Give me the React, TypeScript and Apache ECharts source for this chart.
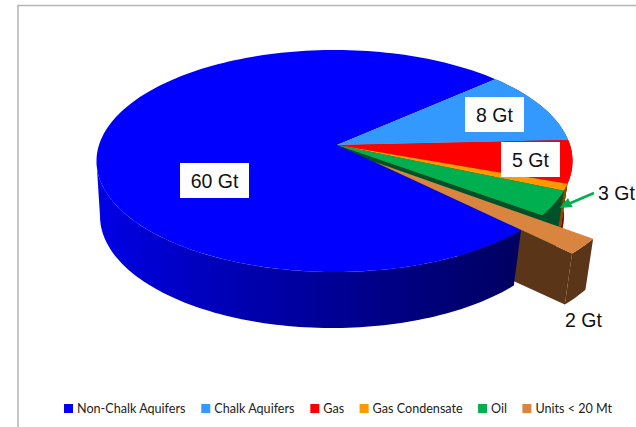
import React, { useEffect, useRef } from "react";
import * as echarts from "echarts";

const categories = ["Non-Chalk Aquifers", "Chalk Aquifers", "Gas", "Gas Condensate", "Oil", "Units < 20 Mt"];
const values = [60, 8, 5, 0.8, 3, 2];
const topColors = ["#0000ff", "#3399ff", "#ff0000", "#ff9900", "#00b050", "#d9843f"];
const sideColors = ["#000080", "#1a4d80", "#800000", "#805000", "#00502a", "#5a3518"];
const labelTexts = ["60 Gt", "8 Gt", "5 Gt", "3 Gt", "2 Gt"];

const START = 47.5;
const apex = [337, 145];
const topE = { cx: 334.5, cy: 161, rx: 238, ry: 111 };
const botE = { cx: 332, cy: 216, rx: 232, ry: 112 };
const apexBot = [335, 200];
const explodeTop = [51, 23.5];
const explodeBot = [51, 19];
const explodeApex = [38, 17];
const total = values.reduce((a, b) => a + b, 0);

const pt = (e: any, deg: number, off = [0, 0]) => {
  const r = (deg * Math.PI) / 180;
  return [e.cx + e.rx * Math.cos(r) + off[0], e.cy - e.ry * Math.sin(r) + off[1]];
};
const arc = (e: any, a: number, b: number, off = [0, 0]) => {
  const n = Math.max(2, Math.ceil(Math.abs(b - a) / 1.5));
  const out: number[][] = [];
  for (let i = 0; i <= n; i++) out.push(pt(e, a + ((b - a) * i) / n, off));
  return out;
};

const angles = (idx: number) => {
  let a = START;
  const res: number[][] = [];
  for (let i = 1; i < values.length; i++) {
    const s = (values[i] / total) * 360;
    res[i] = [a, a - s];
    a -= s;
  }
  res[0] = [a, a - (values[0] / total) * 360];
  return res[idx];
};

const poly = (points: number[][], fill: any, z2: number) => ({
  type: "polygon",
  z2,
  shape: { points },
  style: { fill, stroke: null },
});

const makeRender = (idx: number) => () => {
  const [a, b] = angles(idx);
  const isExploded = idx === values.length - 1;
  const oT = isExploded ? explodeTop : [0, 0];
  const oB = isExploded ? explodeBot : [0, 0];
  const oA = isExploded ? explodeApex : [0, 0];
  const children: any[] = [];
  const zSide = isExploded ? 20 : idx === 0 ? 30 : 10 + idx;
  const zTop = isExploded ? 50 : 40;
  const A = [apex[0] + oA[0], apex[1] + oA[1]];
  const AB = [apexBot[0] + oA[0], apexBot[1] + oA[1]];
  if (idx !== 0) {
    children.push(poly([A, pt(topE, b, oT), pt(botE, b, oB), AB], sideColors[idx], zSide));
  }
  if (idx === 0) {
    const sideFill = new echarts.graphic.LinearGradient(0, 0, 1, 0, [
      { offset: 0, color: "#0000e6" },
      { offset: 0.4, color: "#0000a8" },
      { offset: 1, color: "#000060" },
    ]);
    const topRim = arc(topE, 180, a + 360);
    const botRim = arc(botE, 180, a + 360);
    children.push(poly([...topRim, ...botRim.reverse()], sideFill, zSide));
  } else {
    const topRim = arc(topE, a, b, oT);
    const botRim = arc(botE, a, b, oB);
    children.push(poly([...topRim, ...botRim.reverse()], sideColors[idx], zSide));
  }
  children.push(poly([A, ...arc(topE, a, b, oT)], topColors[idx], zTop));
  return { type: "group", children };
};

export default function App() {
  const ref = useRef<HTMLDivElement>(null);
  useEffect(() => {
    const chart = echarts.init(ref.current!, null, { renderer: "svg" });
    const font = { fontFamily: "'Liberation Sans', Arial, sans-serif", fontSize: 19.5, fill: "#111" };
    const boxed = (text: string, x: number, y: number, w: number, h: number) => [
      { type: "rect", z: 20, shape: { x, y, width: w, height: h }, style: { fill: "#fff" } },
      {
        type: "text",
        z: 21,
        x: x + w / 2,
        y: y + h / 2,
        style: { ...font, text, align: "center", verticalAlign: "middle" },
      },
    ];
    chart.setOption({
      animation: false,
      color: topColors,
      legend: {
        data: categories,
        left: 59,
        top: 397,
        icon: "rect",
        itemWidth: 9,
        itemHeight: 9,
        itemGap: 15.4,
        selectedMode: false,
        textStyle: { fontFamily: "Lato, 'Open Sans', sans-serif", fontSize: 12.6, color: "#222", padding: [0, 0, 0, -1] },
      },
      series: categories.map((name, i) => ({
        type: "custom",
        name,
        coordinateSystem: "none",
        silent: true,
        clip: false,
        itemStyle: { color: topColors[i] },
        data: [[values[i]]],
        renderItem: makeRender(i),
      })),
      graphic: [
        { type: "polyline", z: 20, shape: { points: [[18, 427], [18, 5.5], [636, 5.5]] }, style: { stroke: "#b4b4b4", lineWidth: 1.5, fill: null } },
        ...boxed(labelTexts[0], 180, 163, 69, 35),
        ...boxed(labelTexts[1], 465, 97, 59, 35),
        ...boxed(labelTexts[2], 501, 142, 59, 35),
        { type: "text", z: 21, x: 598, y: 193, style: { ...font, text: labelTexts[3], align: "left", verticalAlign: "middle" } },
        { type: "text", z: 21, x: 565, y: 320, style: { ...font, text: labelTexts[4], align: "left", verticalAlign: "middle" } },
        { type: "line", z: 20, shape: { x1: 594, y1: 193, x2: 566, y2: 205 }, style: { stroke: "#00b050", lineWidth: 2.5 } },
        { type: "polygon", z: 20, shape: { points: [[559.5, 208], [568, 198], [572.7, 207]] }, style: { fill: "#00b050" } },
      ],
    });
    return () => chart.dispose();
  }, []);
  return <div ref={ref} style={{ position: "absolute", left: 0, top: 0, width: 636, height: 427 }} />;
}
